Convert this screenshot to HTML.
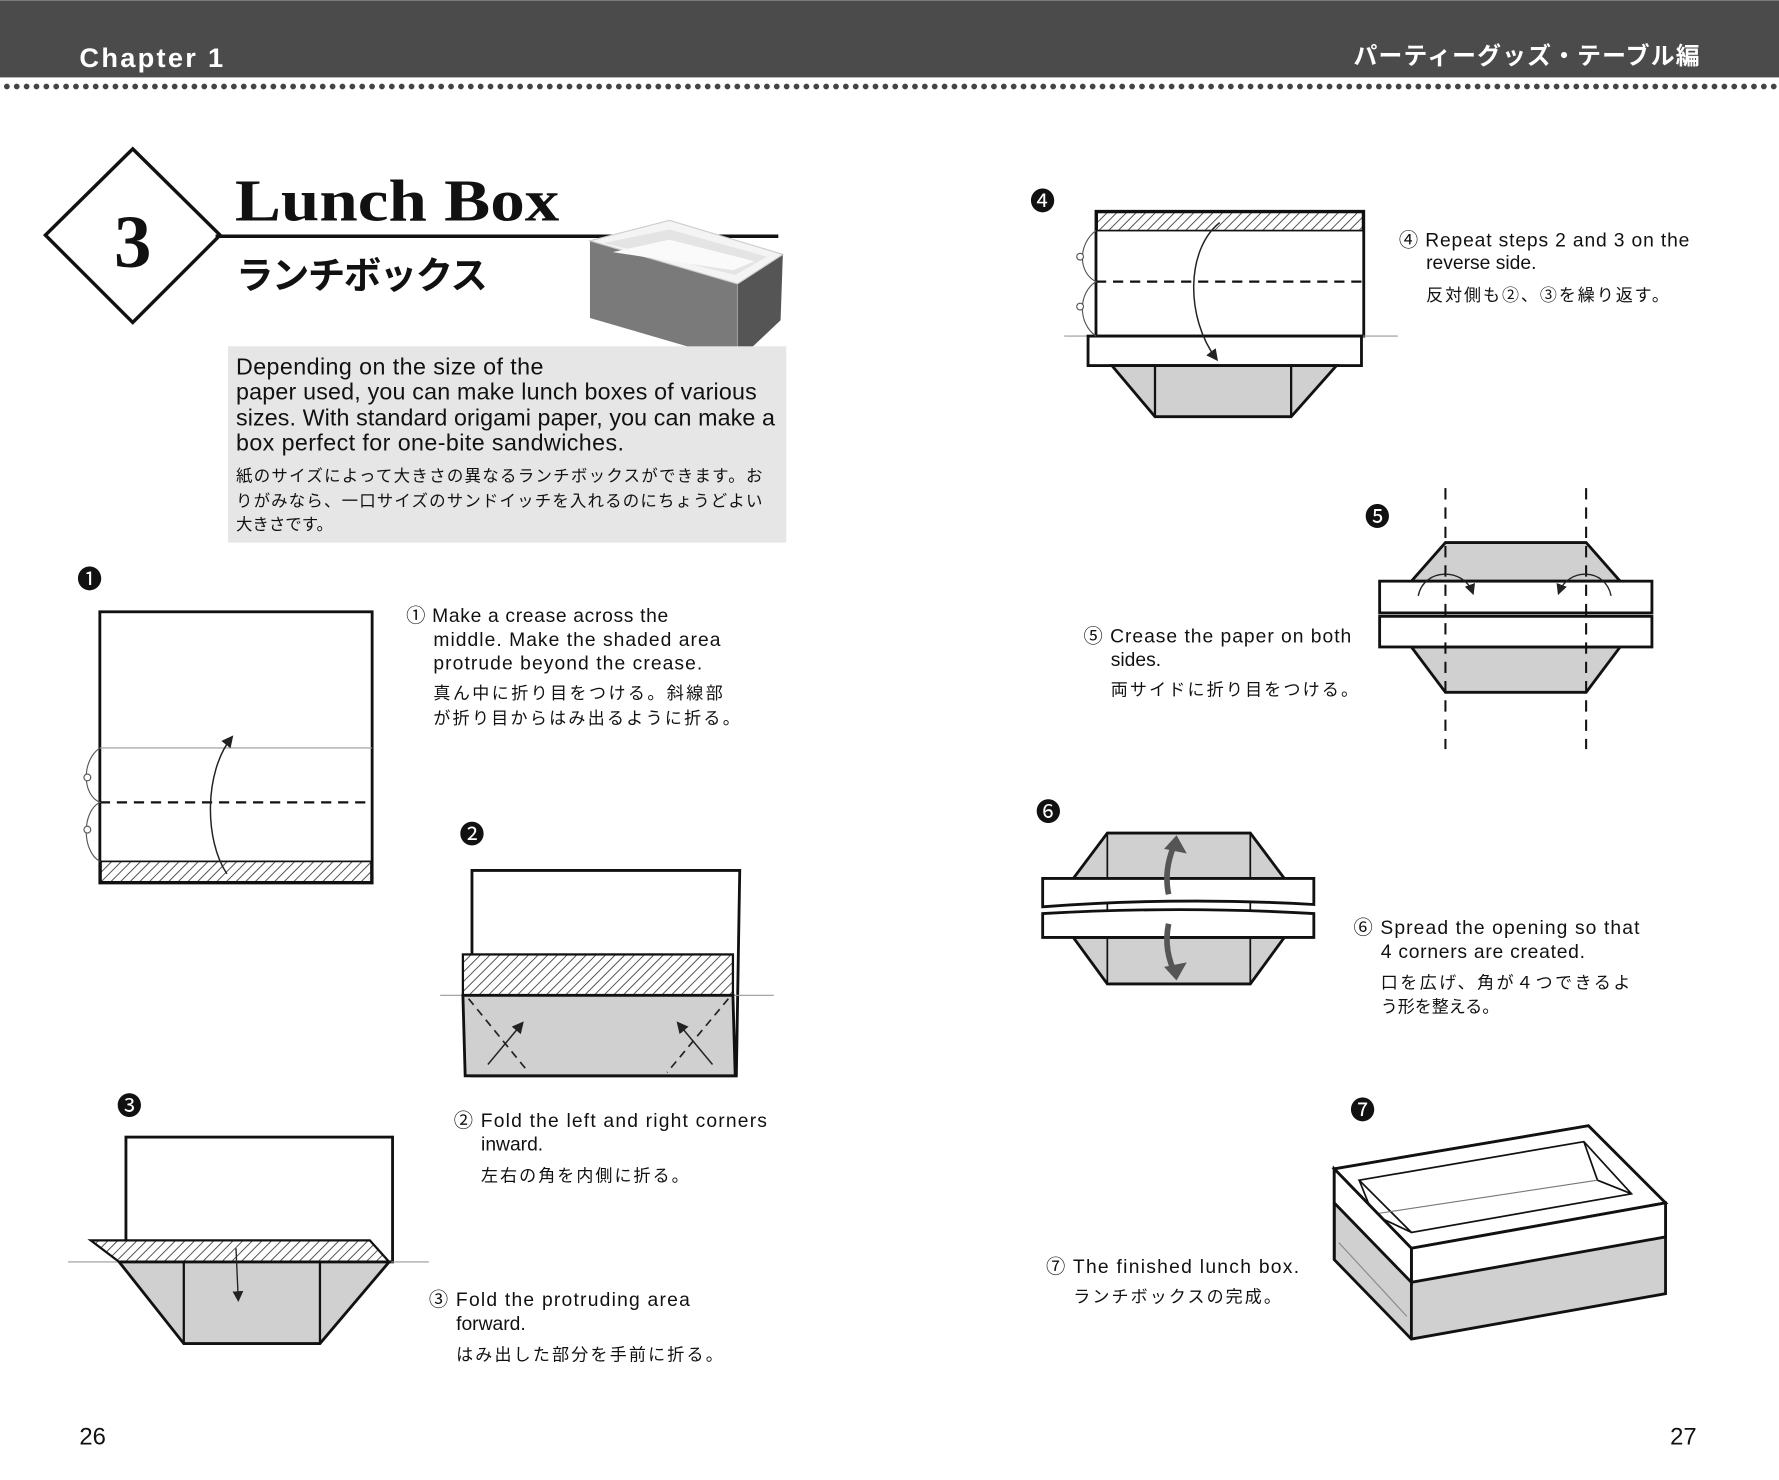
<!DOCTYPE html>
<html><head><meta charset="utf-8"><style>
html,body{margin:0;padding:0;background:#fff;}
svg{display:block}
text{font-family:"Liberation Sans","Noto Sans CJK JP",sans-serif;fill:#111}
</style></head><body>
<svg width="1779" height="1480" viewBox="0 0 1568 1304" xmlns="http://www.w3.org/2000/svg">
<defs>
<pattern id="h" patternUnits="userSpaceOnUse" width="6" height="6" patternTransform="rotate(45)">
<rect width="6" height="6" fill="#fff"/><line x1="0" y1="0" x2="0" y2="6" stroke="#444" stroke-width="1.6"/></pattern>
<marker id="a" markerWidth="8" markerHeight="8" refX="6" refY="4" orient="auto"><path d="M0,0 L8,4 L0,8 Z" fill="#222"/></marker>
</defs>
<rect width="1568" height="1304" fill="#fff"/>
<rect x="0" y="0" width="1568" height="68" fill="#4b4b4b"/>
<line x1="6" y1="76" x2="1568" y2="76" stroke="#444" stroke-width="5" stroke-dasharray="0.1 8.6" stroke-linecap="round"/>
<text x="70" y="59" font-size="24" font-weight="bold" style="fill:#fff;letter-spacing:2px">Chapter 1</text>
<text x="1498" y="56" font-size="21" font-weight="bold" text-anchor="end" style="fill:#fff" textLength="305">パーティーグッズ・テーブル編</text>
<polygon points="117,131 194,207 117,284 40,207" fill="#fff" stroke="#111" stroke-width="3"/>
<text x="117" y="235" font-size="66" font-weight="bold" text-anchor="middle" style="font-family:'Liberation Serif',serif">3</text>
<text x="207" y="194" font-size="52" font-weight="bold" style="font-family:'Liberation Serif',serif" textLength="286" lengthAdjust="spacingAndGlyphs">Lunch Box</text>
<line x1="190" y1="208" x2="686" y2="208" stroke="#111" stroke-width="3"/>
<text x="208" y="254" font-size="33" font-weight="bold" textLength="222">ランチボックス</text>
<!-- photo box -->
<polygon points="520,212 520,280 650,318 650,250" fill="#7a7a7a"/>
<polygon points="650,250 690,224 688,282 650,318" fill="#555"/>
<polygon points="520,212 590,194 690,224 650,250" fill="#f4f4f4" stroke="#ccc" stroke-width="1"/>
<polygon points="532,214 590,202 676,226 648,242" fill="#e4e4e4"/>
<polygon points="540,222 590,211 665,230 646,238" fill="#fafafa"/>
<line x1="650" y1="250" x2="650" y2="318" stroke="#999" stroke-width="1"/>
<rect x="201" y="305" width="492" height="173" fill="#e6e6e6"/>
<g font-size="20.5">
<text x="208" y="330" textLength="271">Depending on the size of the</text>
<text x="208" y="352" textLength="459">paper used, you can make lunch boxes of various</text>
<text x="208" y="375" textLength="475">sizes. With standard origami paper, you can make a</text>
<text x="208" y="397" textLength="342">box perfect for one-bite sandwiches.</text>
</g>
<g font-size="14.5">
<text x="208" y="424" textLength="464">紙のサイズによって大きさの異なるランチボックスができます。お</text>
<text x="208" y="446" textLength="464">りがみなら、一口サイズのサンドイッチを入れるのにちょうどよい</text>
<text x="208" y="467">大きさです。</text>
</g>
<!-- step 1 -->
<text x="68" y="518" font-size="22">❶</text>
<rect x="88" y="539" width="240" height="239" fill="#fff" stroke="#111" stroke-width="2.5"/>
<line x1="88" y1="659" x2="328" y2="659" stroke="#999" stroke-width="1"/>
<line x1="88" y1="707" x2="328" y2="707" stroke="#111" stroke-width="2" stroke-dasharray="9 6"/>
<rect x="89" y="759" width="238" height="18" fill="url(#h)" stroke="#111" stroke-width="1.5"/>
<path d="M200,770 C180,740 180,680 204,650" fill="none" stroke="#222" stroke-width="1.3" marker-end="url(#a)"/>
<path d="M88,659 C72,670 72,700 88,707 C72,715 72,750 88,759" fill="none" stroke="#555" stroke-width="1"/>
<circle cx="77" cy="685" r="3" fill="#fff" stroke="#555"/><circle cx="77" cy="731" r="3" fill="#fff" stroke="#555"/>
<g font-size="17">
<text x="358" y="548" textLength="231">① Make a crease across the</text>
<text x="382" y="569" textLength="253">middle. Make the shaded area</text>
<text x="382" y="590" textLength="237">protrude beyond the crease.</text>
</g>
<g font-size="15"><text x="382" y="616" textLength="255">真ん中に折り目をつける。斜線部</text><text x="382" y="638" textLength="270">が折り目からはみ出るように折る。</text></g>
<!-- step 2 -->
<text x="405" y="743" font-size="22">❷</text>
<polygon points="416,767 652,767 649,948 416,948" fill="#fff" stroke="#111" stroke-width="2.5"/>
<line x1="388" y1="877" x2="682" y2="877" stroke="#999" stroke-width="1"/>
<rect x="408" y="841" width="238" height="36" fill="url(#h)" stroke="#111" stroke-width="2"/>
<polygon points="408,877 646,877 648,948 410,948" fill="#d0d0d0" stroke="#111" stroke-width="2.5"/>
<path d="M413,880 L466,945 M642,880 L588,945" stroke="#222" stroke-width="1.5" stroke-dasharray="7 5" fill="none"/>
<path d="M430,938 L460,902" stroke="#222" stroke-width="1.3" marker-end="url(#a)"/>
<path d="M628,938 L598,902" stroke="#222" stroke-width="1.3" marker-end="url(#a)"/>
<g font-size="17"><text x="400" y="993" textLength="276">② Fold the left and right corners</text><text x="424" y="1014">inward.</text></g>
<text x="424" y="1041" font-size="15" textLength="183">左右の角を内側に折る。</text>
<!-- step 3 -->
<text x="103" y="982" font-size="22">❸</text>
<rect x="111" y="1002" width="235" height="110" fill="#fff" stroke="#111" stroke-width="2.5"/>
<line x1="60" y1="1112" x2="378" y2="1112" stroke="#999" stroke-width="1"/>
<polygon points="80,1093 326,1093 343,1112 105,1112" fill="url(#h)" stroke="#111" stroke-width="2"/>
<polygon points="105,1112 343,1112 282,1184 162,1184" fill="#d0d0d0" stroke="#111" stroke-width="2.5"/>
<path d="M162,1112 L162,1184 M282,1112 L282,1184" stroke="#111" stroke-width="2"/>
<path d="M208,1100 L210,1145" stroke="#222" stroke-width="1.2" marker-end="url(#a)"/>
<g font-size="17"><text x="378" y="1151" textLength="230">③ Fold the protruding area</text><text x="402" y="1172">forward.</text></g>
<text x="402" y="1199" font-size="15" textLength="235">はみ出した部分を手前に折る。</text>
<text x="70" y="1273" font-size="21">26</text>
<!-- step 4 -->
<text x="908" y="185" font-size="22">❹</text>
<rect x="966" y="186" width="236" height="110" fill="#fff" stroke="#111" stroke-width="2.5"/>
<rect x="967" y="187" width="234" height="16" fill="url(#h)" stroke="#111" stroke-width="1.5"/>
<line x1="966" y1="248" x2="1202" y2="248" stroke="#111" stroke-width="2" stroke-dasharray="9 6"/>
<line x1="938" y1="296" x2="1232" y2="296" stroke="#999" stroke-width="1"/>
<rect x="959" y="296" width="241" height="26" fill="#fff" stroke="#111" stroke-width="2.5"/>
<polygon points="980,322 1178,322 1138,367 1018,367" fill="#d0d0d0" stroke="#111" stroke-width="2.5"/>
<path d="M1018,322 L1018,367 M1138,322 L1138,367" stroke="#111" stroke-width="2"/>
<path d="M1075,196 C1045,220 1045,280 1072,316" fill="none" stroke="#222" stroke-width="1.3" marker-end="url(#a)"/>
<path d="M966,203 C950,215 950,240 966,248 C950,258 950,285 966,296" fill="none" stroke="#555" stroke-width="1"/>
<circle cx="952" cy="226" r="3" fill="#fff" stroke="#555"/><circle cx="952" cy="270" r="3" fill="#fff" stroke="#555"/>
<g font-size="17"><text x="1233" y="217" textLength="256">④ Repeat steps 2 and 3 on the</text><text x="1257" y="237">reverse side.</text></g>
<text x="1257" y="265" font-size="15" textLength="214">反対側も②、③を繰り返す。</text>
<!-- step 5 -->
<text x="1203" y="463" font-size="22">❺</text>
<polygon points="1244,512 1274,478 1398,478 1428,512" fill="#d0d0d0" stroke="#111" stroke-width="2.5"/>
<polygon points="1244,570 1274,610 1398,610 1428,570" fill="#d0d0d0" stroke="#111" stroke-width="2.5"/>
<rect x="1216" y="512" width="240" height="28" fill="#fff" stroke="#111" stroke-width="2.5"/>
<rect x="1216" y="543" width="240" height="27" fill="#fff" stroke="#111" stroke-width="2.5"/>
<path d="M1274,430 L1274,660 M1398,430 L1398,660" stroke="#111" stroke-width="1.8" stroke-dasharray="10 7"/>
<path d="M1250,525 C1255,500 1290,500 1298,522" fill="none" stroke="#222" stroke-width="1.2" marker-end="url(#a)"/>
<path d="M1420,525 C1415,500 1382,500 1374,522" fill="none" stroke="#222" stroke-width="1.2" marker-end="url(#a)"/>
<g font-size="17"><text x="955" y="566" textLength="236">⑤ Crease the paper on both</text><text x="979" y="587">sides.</text></g>
<text x="979" y="613" font-size="15" textLength="218">両サイドに折り目をつける。</text>
<!-- step 6 -->
<text x="913" y="723" font-size="22">❻</text>
<polygon points="946,774 976,734 1102,734 1132,774" fill="#d0d0d0" stroke="#111" stroke-width="2.5"/>
<polygon points="946,826 976,867 1102,867 1132,826" fill="#d0d0d0" stroke="#111" stroke-width="2.5"/>
<path d="M976,734 L976,867 M1102,734 L1102,867" stroke="#111" stroke-width="1.5"/>
<path d="M919,774 L1158,774 L1158,797 Q1040,790 919,799 Z" fill="#fff" stroke="#111" stroke-width="2.5"/>
<path d="M919,805 Q1040,798 1158,805 L1158,826 L919,826 Z" fill="#fff" stroke="#111" stroke-width="2.5"/>
<path d="M1030,788 Q1025,765 1037,740" fill="none" stroke="#555" stroke-width="5"/>
<polygon points="1026,748 1037,736 1046,752" fill="#555"/>
<path d="M1030,814 Q1025,838 1037,860" fill="none" stroke="#555" stroke-width="5"/>
<polygon points="1026,852 1037,864 1046,848" fill="#555"/>
<g font-size="17"><text x="1193" y="823" textLength="252">⑥ Spread the opening so that</text><text x="1217" y="844" textLength="180">4 corners are created.</text></g>
<g font-size="15"><text x="1217" y="871" textLength="220">口を広げ、角が４つできるよ</text><text x="1217" y="892">う形を整える。</text></g>
<!-- step 7 -->
<text x="1190" y="986" font-size="22">❼</text>
<polygon points="1176,1030 1400,992 1468,1060 1468,1140 1244,1180 1176,1110" fill="#d0d0d0" stroke="#111" stroke-width="2.5"/>
<polygon points="1176,1030 1400,992 1468,1060 1244,1100" fill="#fff" stroke="#111" stroke-width="2.5"/>
<polygon points="1198,1040 1396,1006 1438,1052 1244,1086" fill="#fff" stroke="#111" stroke-width="1.5"/>
<path d="M1198,1040 L1210,1070 L1244,1086 M1396,1006 L1408,1040 L1438,1052" fill="none" stroke="#111" stroke-width="1.5"/>
<path d="M1210,1070 L1408,1040" fill="none" stroke="#777" stroke-width="1"/>
<polygon points="1244,1100 1468,1060 1468,1090 1244,1130" fill="#fff" stroke="#111" stroke-width="2.5"/>
<polygon points="1176,1030 1244,1100 1244,1130 1176,1060" fill="#fff" stroke="#111" stroke-width="2.5"/>
<path d="M1244,1130 L1244,1180 M1176,1060 L1176,1110" stroke="#111" stroke-width="2.5"/>
<path d="M1180,1095 L1240,1160" stroke="#888" stroke-width="1"/>
<g font-size="17"><text x="922" y="1122" textLength="223">⑦ The finished lunch box.</text></g>
<text x="946" y="1148" font-size="15" textLength="183">ランチボックスの完成。</text>
<text x="1472" y="1273" font-size="21">27</text>
</svg>
</body></html>
